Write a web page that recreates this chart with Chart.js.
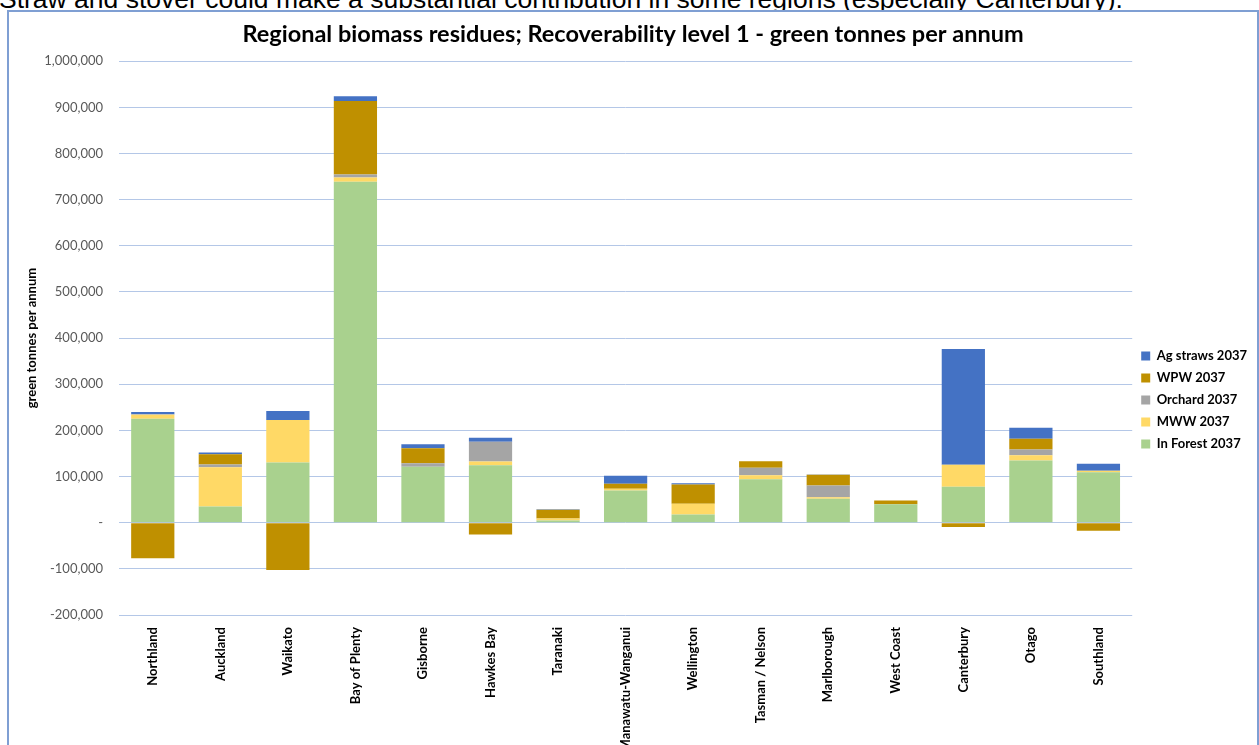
<!DOCTYPE html>
<html>
<head>
<meta charset="utf-8">
<script src="https://cdn.jsdelivr.net/npm/chart.js@4"></script>
<style>
  html, body { margin: 0; padding: 0; background: #fff; overflow: hidden; }
  body { width: 1259px; height: 745px; position: relative; }
  #lead {
    position: absolute; left: -1px; top: -14px;
    font: 26.5px/26px "Liberation Sans", Arial, sans-serif; color: #000; white-space: nowrap;
  }
  #frame {
    position: absolute; left: 7px; top: 10px; width: 1248px; height: 800px;
    border: 2px solid #7f9fd3; background: #fff;
  }
  #wrap { position: absolute; left: 0; top: 0; width: 1248px; height: 776px; }
</style>
</head>
<body>
<div id="lead">Straw and stover could make a substantial contribution in some regions (especially Canterbury).</div>
<div id="frame">
  <div id="wrap"><canvas id="biomassChart"></canvas></div>
</div>
<script>
const regions = ["Northland", "Auckland", "Waikato", "Bay of Plenty", "Gisborne", "Hawkes Bay", "Taranaki",
  "Manawatu-Wanganui", "Wellington", "Tasman / Nelson", "Marlborough", "West Coast", "Canterbury", "Otago", "Southland"];

// green tonnes per annum
const inForest = [225000, 35000, 130500, 739000, 121000, 124700, 5000, 70000, 18000, 94400, 52000, 40000, 78000, 135000, 109500];
const mww = [9000, 85000, 92000, 9000, 0, 8000, 4000, 3500, 23000, 8600, 3000, 0, 47500, 11000, 3000];
const orchard = [1000, 6000, 0, 6500, 8000, 42500, 0, 0, 0, 16000, 25700, 0, 0, 12700, 0];
const wpw = [-77000, 22500, -102600, 159500, 32500, -25300, 19000, 11000, 42000, 14000, 23000, 8000, -9500, 23000, -17300];
const agStraws = [5000, 3500, 19500, 10000, 8500, 9000, 1000, 17300, 2700, 0, 1000, 0, 251000, 24000, 15500];

const yTicks = [-200000, -100000, 0, 100000, 200000, 300000, 400000, 500000, 600000, 700000, 800000, 900000, 1000000];

const FONT = "Lato, 'Open Sans', sans-serif";

const ctx = document.getElementById("biomassChart");

new Chart(ctx, {
  type: "bar",
  data: {
    labels: regions,
    datasets: [
      { label: "In Forest 2037", data: inForest, backgroundColor: "#a9d18e" },
      { label: "MWW 2037", data: mww, backgroundColor: "#ffd966" },
      { label: "Orchard 2037", data: orchard, backgroundColor: "#a5a5a5" },
      { label: "WPW 2037", data: wpw, backgroundColor: "#bf9000" },
      { label: "Ag straws 2037", data: agStraws, backgroundColor: "#4472c4" },
    ],
  },
  options: {
    responsive: true,
    maintainAspectRatio: false,
    animation: false,
    layout: { padding: 0 },
    datasets: {
      bar: { categoryPercentage: 1, barPercentage: 0.64 },
    },
    plugins: {
      title: {
        display: true,
        text: "Regional biomass residues; Recoverability level 1 - green tonnes per annum",
        color: "#000",
        font: { family: FONT, size: 23.5, weight: "bold", lineHeight: 1.2 },
        padding: { top: 8, bottom: 13 },
      },
      legend: {
        position: "right",
        reverse: true,
        labels: {
          boxWidth: 9,
          boxHeight: 9,
          padding: 9,
          color: "#000",
          font: { family: FONT, size: 13, weight: "bold" },
        },
      },
      tooltip: { enabled: false },
    },
    scales: {
      x: {
        stacked: true,
        grid: { display: false },
        border: { display: false },
        ticks: {
          color: "#000",
          minRotation: 90,
          maxRotation: 90,
          padding: 4,
          font: { family: FONT, size: 13, weight: "bold" },
        },
        afterFit: function (scale) {
          scale.height = 173;
        },
      },
      y: {
        stacked: true,
        min: -200000,
        max: 1000000,
        afterBuildTicks: function (scale) {
          scale.ticks = yTicks.map((v) => ({ value: v }));
        },
        grid: { color: "#b4c7e7", lineWidth: 1, drawTicks: false },
        border: { display: false },
        ticks: {
          color: "#595959",
          padding: 16,
          font: { family: FONT, size: 13 },
          callback: function (value) {
            if (value === 0) return "-";
            return value.toLocaleString("en-US");
          },
        },
        title: {
          display: true,
          text: "green tonnes per annum",
          color: "#000",
          padding: { top: 15, bottom: 0 },
          font: { family: FONT, size: 13, weight: "bold" },
        },
        afterFit: function (scale) {
          scale.width = 110;
        },
      },
    },
  },
});
</script>
</body>
</html>
